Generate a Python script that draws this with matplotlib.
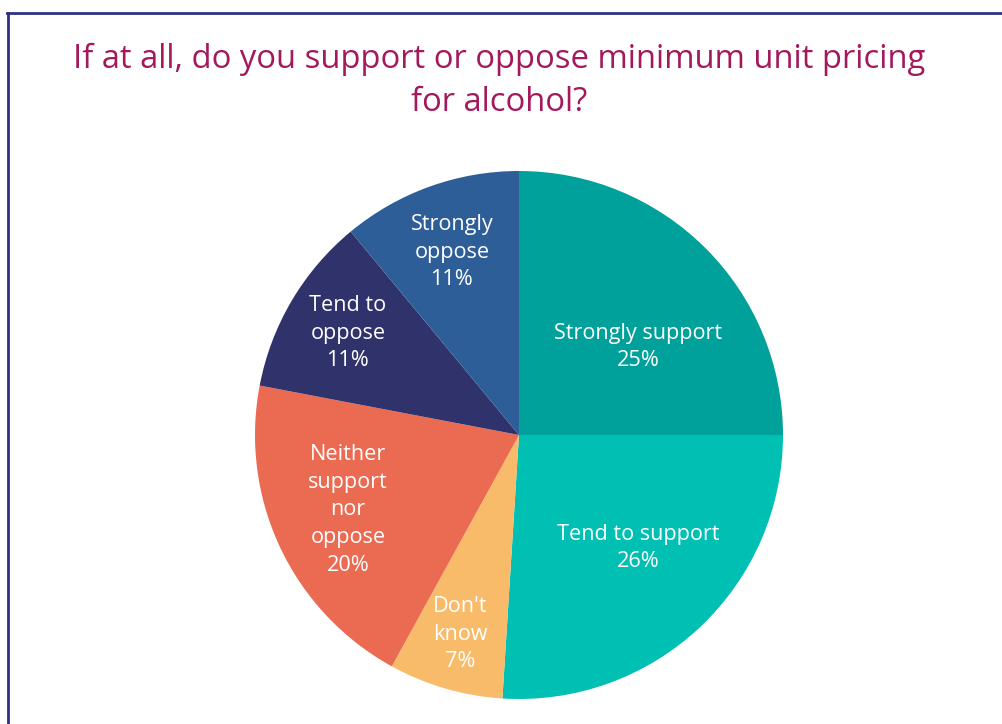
import matplotlib
matplotlib.use("Agg")
import matplotlib.pyplot as plt
from matplotlib.lines import Line2D

# Survey responses, clockwise from 12 o'clock
categories = ["Strongly support", "Tend to support", "Don't\nknow",
              "Neither\nsupport\nnor\noppose", "Tend to\noppose", "Strongly\noppose"]
shares = [25, 26, 7, 20, 11, 11]
colors = ["#00A19A", "#00BFB3", "#F8BB6A", "#EB6A52", "#30336B", "#2E5E97"]

# label anchor points in pie-radius units
label_xy = [(0.451, 0.333), (0.451, -0.428), (-0.223, -0.754),
            (-0.648, -0.284), (-0.648, 0.386), (-0.254, 0.693)]

plt.rcParams["font.family"] = ["Open Sans", "DejaVu Sans"]

fig = plt.figure(figsize=(10.02, 7.24), dpi=100)
fig.patch.set_facecolor("white")

cx, cy, r = 519 / 1002, 1 - 435 / 724, 264
w, h = 2 * r / 1002, 2 * r / 724
ax = fig.add_axes([cx - w / 2, cy - h / 2, w, h])
ax.pie(shares, colors=colors, startangle=90, counterclock=False,
       radius=1.0, wedgeprops=dict(linewidth=0))
ax.set_xlim(-1, 1)
ax.set_ylim(-1, 1)
ax.set_aspect("equal")
ax.axis("off")

for name, val, (lx, ly) in zip(categories, shares, label_xy):
    ax.text(lx, ly, f"{name}\n{val}%", ha="center", va="center",
            color="white", fontsize=15.6, linespacing=1.42)

fig.text(499 / 1002, 1 - 80.5 / 724,
         "If at all, do you support or oppose minimum unit pricing\nfor alcohol?",
         ha="center", va="center", color="#A3195B", fontsize=23.6,
         linespacing=1.4)

# frame lines along the left and top edges
fig.add_artist(Line2D([8 / 1002, 8 / 1002], [0, 1 - 12.5 / 724],
                      transform=fig.transFigure, color="#2E3187", lw=2))
fig.add_artist(Line2D([7 / 1002, 1], [1 - 12.5 / 724, 1 - 12.5 / 724],
                      transform=fig.transFigure, color="#2E3187", lw=2))

fig.savefig("out.png", dpi=100, facecolor="white")
